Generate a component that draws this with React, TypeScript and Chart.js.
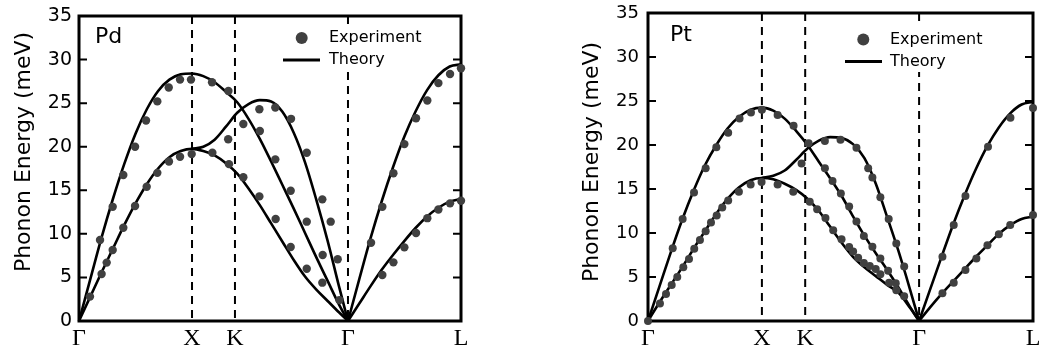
import { useEffect, useRef } from "react";
import { Chart, registerables } from "chart.js";

Chart.register(...registerables);

const SANS = "'DejaVu Sans', 'Noto Sans', sans-serif";
const SERIF = "'Liberation Serif', 'DejaVu Serif', serif";

// x positions along the path Γ-X-K-Γ-L
const TICK_POS = [0, 1, 1.38, 2.38, 3.38];
const TICK_LABELS = ["Γ", "X", "K", "Γ", "L"];
const DASH_POS = [1, 1.38, 2.38];

const GRID_GXKG = [0, 0.1, 0.2, 0.3, 0.4, 0.5, 0.6, 0.7, 0.8, 0.9, 1.0, 1.1, 1.2, 1.3, 1.4, 1.5, 1.6, 1.7, 1.8, 1.9, 2.0, 2.1, 2.2, 2.3, 2.38];
const GRID_XKG = [1.0, 1.1, 1.2, 1.3, 1.4, 1.5, 1.6, 1.7, 1.8, 1.9, 2.0, 2.1, 2.2, 2.3, 2.38];
const GRID_GL = [2.38, 2.48, 2.58, 2.68, 2.78, 2.88, 2.98, 3.08, 3.18, 3.28, 3.38];

// ---- Pd theory ----
const PD_UPPER = [0, 4.8, 9.6, 14.0, 18.0, 21.5, 24.3, 26.4, 27.7, 28.3, 28.4, 28.1, 27.4, 26.3, 25.1, 23.2, 20.9, 18.3, 15.6, 12.9, 10.1, 7.3, 4.6, 1.9, 0];
const PD_LOWER = [0, 2.8, 5.6, 8.3, 11.0, 13.5, 15.7, 17.5, 18.8, 19.5, 19.75, 19.5, 19.0, 18.1, 16.9, 15.2, 13.3, 11.2, 9.1, 7.0, 5.1, 3.6, 2.3, 1.0, 0];
const PD_MID = [19.75, 20.0, 20.8, 22.3, 23.9, 24.9, 25.35, 25.2, 24.0, 21.6, 18.2, 13.9, 9.2, 4.0, 0];
const PD_GL_UP = [0, 4.8, 9.5, 13.8, 17.7, 21.2, 24.1, 26.5, 28.2, 29.2, 29.45];
const PD_GL_LO = [0, 2.0, 4.0, 5.9, 7.6, 9.2, 10.7, 12.0, 13.0, 13.7, 14.0];

// ---- Pd experiment ----
const PD_EXP_X = [0.097, 0.186, 0.2, 0.245, 0.298, 0.298, 0.392, 0.392, 0.496, 0.496, 0.599, 0.593, 0.693, 0.693, 0.796, 0.794, 0.894, 0.894, 0.997, 0.991,
  1.177, 1.18, 1.322, 1.327, 1.32, 1.454, 1.454, 1.596, 1.6, 1.596, 1.737, 1.737, 1.74, 1.876, 1.873, 1.873, 2.015, 2.015, 2.015, 2.153, 2.156, 2.153, 2.227, 2.289, 2.304,
  2.584, 2.684, 2.782, 2.879, 2.982, 3.082, 3.18, 3.283, 3.38, 2.684, 2.782, 2.879, 2.982, 3.082, 3.18, 3.283, 3.38];
const PD_EXP_Y = [2.8, 9.3, 5.4, 6.7, 8.15, 13.1, 10.7, 16.75, 13.2, 20.0, 15.4, 23.0, 17.0, 25.2, 18.3, 26.8, 18.85, 27.7, 19.15, 27.7,
  27.4, 19.3, 26.4, 18.0, 20.85, 22.6, 16.5, 24.3, 21.8, 14.3, 24.5, 18.55, 11.7, 23.2, 14.95, 8.5, 19.3, 11.4, 6.0, 13.96, 7.57, 4.4, 11.4, 7.08, 2.4,
  8.98, 13.1, 16.95, 20.3, 23.26, 25.3, 27.3, 28.35, 29.0, 5.28, 6.73, 8.45, 10.1, 11.8, 12.8, 13.5, 13.8];

// ---- Pt theory ----
const PT_UPPER = [0, 3.9, 7.8, 11.5, 14.8, 17.7, 20.0, 21.9, 23.2, 24.0, 24.25, 23.9, 23.0, 21.6, 20.0, 18.1, 16.2, 14.2, 11.9, 9.7, 7.7, 5.8, 3.8, 1.6, 0];
const PT_LOWER = [0, 2.1, 4.1, 6.1, 8.2, 10.2, 12.2, 13.9, 15.2, 16.0, 16.25, 16.1, 15.6, 14.9, 13.9, 12.5, 10.7, 8.9, 7.3, 6.1, 5.1, 4.1, 3.2, 1.5, 0];
const PT_MID = [16.25, 16.5, 17.1, 18.3, 19.6, 20.5, 20.9, 20.8, 20.1, 18.5, 15.6, 11.8, 7.9, 3.6, 0];
const PT_GL_UP = [0, 3.7, 7.4, 11.0, 14.3, 17.3, 19.9, 22.0, 23.6, 24.6, 24.9];
const PT_GL_LO = [0, 1.6, 3.1, 4.5, 5.9, 7.3, 8.6, 9.9, 10.9, 11.6, 11.85];

// ---- Pt experiment ----
const PT_EXP_X = [0, 0.105, 0.158, 0.208, 0.257, 0.31, 0.36, 0.406, 0.456, 0.506, 0.553, 0.603, 0.652, 0.704, 0.798, 0.901, 0.997,
  0.217, 0.304, 0.404, 0.506, 0.6, 0.704, 0.804, 0.904, 1.0,
  1.138, 1.138, 1.278, 1.275, 1.348, 1.41, 1.42, 1.485, 1.553, 1.553, 1.558, 1.626, 1.62, 1.69, 1.693, 1.699, 1.766, 1.766, 1.801, 1.83,
  1.83, 1.845, 1.895, 1.895, 1.933, 1.947, 1.97, 1.97, 1.999, 2.04, 2.04, 2.04, 2.113, 2.108, 2.117, 2.18, 2.175, 2.18, 2.249, 2.249,
  2.585, 2.684, 2.787, 2.985, 3.182, 3.38, 2.585, 2.684, 2.787, 2.883, 2.98, 3.08, 3.18, 3.38];
const PT_EXP_Y = [0, 2.0, 3.07, 4.1, 5.0, 6.1, 7.05, 8.2, 9.2, 10.2, 11.2, 12.0, 12.9, 13.7, 14.7, 15.5, 15.8,
  8.26, 11.6, 14.6, 17.35, 19.75, 21.4, 23.0, 23.7, 24.0,
  23.4, 15.5, 22.2, 14.7, 17.9, 20.2, 13.55, 12.7, 20.45, 17.35, 11.7, 10.3, 15.9, 20.6, 14.5, 9.3, 13.0, 8.4, 7.9, 19.7,
  11.3, 7.2, 9.66, 6.6, 17.35, 6.25, 16.3, 8.44, 5.9, 14.05, 7.1, 5.3, 11.6, 5.7, 4.35, 8.8, 4.3, 3.5, 6.2, 2.8,
  7.3, 10.9, 14.2, 19.8, 23.1, 24.2, 3.15, 4.35, 5.8, 7.1, 8.6, 9.85, 10.9, 12.05];

const Y_INNER_TICKS = [5, 10, 15, 20, 25, 30];

const W = 520;
const H = 351;

type Panel = {
  name: string;
  offsetX: number;
  upper: number[];
  lower: number[];
  mid: number[];
  glUp: number[];
  glLo: number[];
  expX: number[];
  expY: number[];
  area: { left: number; right: number; top: number; bottom: number };
  tickPad: number;
  tickFont: number;
  pointRadius: number;
  yTitle: { x: number; y: number };
  nameAt: { x: number; y: number };
  legend: { mx: number; my: number; lx0: number; lx1: number; ly: number; tx: number; box: [number, number, number, number] };
};

const PANELS: Panel[] = [
  {
    name: "Pd",
    offsetX: 0,
    upper: PD_UPPER, lower: PD_LOWER, mid: PD_MID, glUp: PD_GL_UP, glLo: PD_GL_LO,
    expX: PD_EXP_X, expY: PD_EXP_Y,
    area: { left: 79, right: 461, top: 16, bottom: 321 },
    tickPad: 7,
    tickFont: 19,
    pointRadius: 4.2,
    yTitle: { x: 24, y: 152 },
    nameAt: { x: 95, y: 43 },
    legend: { mx: 301.7, my: 38, lx0: 283, lx1: 320, ly: 60, tx: 329, box: [279, 27, 146, 44] },
  },
  {
    name: "Pt",
    offsetX: 520,
    upper: PT_UPPER, lower: PT_LOWER, mid: PT_MID, glUp: PT_GL_UP, glLo: PT_GL_LO,
    expX: PT_EXP_X, expY: PT_EXP_Y,
    area: { left: 128, right: 513, top: 13, bottom: 321 },
    tickPad: 9,
    tickFont: 18,
    pointRadius: 4,
    yTitle: { x: 592.5, y: 162 },
    nameAt: { x: 670, y: 41 },
    legend: { mx: 863.3, my: 39.5, lx0: 845, lx1: 882, ly: 61.5, tx: 890, box: [841, 26, 146, 46] },
  },
];

const toXY = (xs: number[], ys: number[]) => xs.map((x, i) => ({ x, y: ys[i] }));

function decor(p: Panel) {
  const o = p.offsetX;
  return {
    id: "decor" + p.name,
    beforeDatasetsDraw(chart: any) {
      const { ctx, chartArea: a, scales } = chart;
      const x = scales.x;
      const y = scales.y;
      ctx.save();
      // dashed high-symmetry lines
      ctx.strokeStyle = "#000";
      ctx.lineWidth = 2;
      ctx.setLineDash([8, 6]);
      DASH_POS.forEach((v) => {
        const px = x.getPixelForValue(v);
        ctx.beginPath();
        ctx.moveTo(px, a.top);
        ctx.lineTo(px, a.bottom);
        ctx.stroke();
      });
      ctx.setLineDash([]);
      // frame
      ctx.lineWidth = 3;
      ctx.strokeRect(a.left, a.top, a.right - a.left, a.bottom - a.top);
      // inner ticks
      ctx.lineWidth = 2;
      Y_INNER_TICKS.forEach((v) => {
        const py = y.getPixelForValue(v);
        ctx.beginPath();
        ctx.moveTo(a.left, py);
        ctx.lineTo(a.left + 8, py);
        ctx.moveTo(a.right, py);
        ctx.lineTo(a.right - 8, py);
        ctx.stroke();
      });
      ctx.restore();
    },
    afterDraw(chart: any) {
      const { ctx } = chart;
      const L = p.legend;
      ctx.save();
      // legend
      ctx.fillStyle = "#fff";
      ctx.fillRect(L.box[0] - o, L.box[1], L.box[2], L.box[3]);
      ctx.fillStyle = "#404040";
      ctx.beginPath();
      ctx.arc(L.mx - o, L.my, 6, 0, Math.PI * 2);
      ctx.fill();
      ctx.strokeStyle = "#000";
      ctx.lineWidth = 3;
      ctx.beginPath();
      ctx.moveTo(L.lx0 - o, L.ly);
      ctx.lineTo(L.lx1 - o, L.ly);
      ctx.stroke();
      ctx.fillStyle = "#000";
      ctx.font = `16px ${SANS}`;
      ctx.textAlign = "left";
      ctx.textBaseline = "middle";
      ctx.fillText("Experiment", L.tx - o, L.my);
      ctx.fillText("Theory", L.tx - o, L.ly);
      // panel name
      ctx.font = `22px ${SANS}`;
      ctx.textBaseline = "alphabetic";
      ctx.fillText(p.name, p.nameAt.x - o, p.nameAt.y);
      // y title
      ctx.translate(p.yTitle.x - o, p.yTitle.y);
      ctx.rotate(-Math.PI / 2);
      ctx.textAlign = "center";
      ctx.textBaseline = "middle";
      ctx.font = `22px ${SANS}`;
      ctx.fillText("Phonon Energy (meV)", 0, 0);
      ctx.restore();
    },
  };
}

function buildConfig(p: Panel): any {
  const line = (xs: number[], ys: number[]) => ({
    type: "line",
    data: toXY(xs, ys),
    borderColor: "#000",
    borderWidth: 2.6,
    pointRadius: 0,
    fill: false,
    showLine: true,
    cubicInterpolationMode: "monotone",
    clip: false,
    order: 1,
  });
  return {
    type: "scatter",
    data: {
      datasets: [
        {
          type: "scatter",
          label: "Experiment",
          data: toXY(p.expX, p.expY),
          pointRadius: p.pointRadius,
          pointBackgroundColor: "#404040",
          pointBorderWidth: 0,
          showLine: false,
          clip: false,
          order: 0,
        },
        line(GRID_GXKG, p.upper),
        line(GRID_GXKG, p.lower),
        line(GRID_XKG, p.mid),
        line(GRID_GL, p.glUp),
        line(GRID_GL, p.glLo),
      ],
    },
    options: {
      responsive: false,
      animation: false,
      events: [],
      layout: { padding: { left: 0, top: p.area.top, right: W - p.area.right, bottom: 0 } },
      plugins: { legend: { display: false }, tooltip: { enabled: false }, title: { display: false } },
      scales: {
        x: {
          type: "linear",
          min: 0,
          max: 3.38,
          grid: { display: false, drawTicks: false },
          border: { display: false },
          afterBuildTicks: (s: any) => {
            s.ticks = TICK_POS.map((v) => ({ value: v }));
          },
          ticks: {
            autoSkip: false,
            maxRotation: 0,
            padding: 3,
            color: "#000",
            font: { family: SERIF, size: 24 },
            callback: (_v: any, i: number) => TICK_LABELS[i],
          },
          afterFit: (s: any) => {
            s.height = H - p.area.bottom;
            s.paddingLeft = 0;
            s.paddingRight = 0;
          },
        },
        y: {
          type: "linear",
          min: 0,
          max: 35,
          grid: { display: false, drawTicks: false },
          border: { display: false },
          ticks: { stepSize: 5, padding: p.tickPad, color: "#000", font: { family: SANS, size: p.tickFont } },
          afterFit: (s: any) => {
            s.width = p.area.left;
            s.paddingTop = 0;
            s.paddingBottom = 0;
          },
        },
      },
    },
    plugins: [decor(p)],
  };
}

export default function App() {
  const leftRef = useRef<HTMLCanvasElement>(null);
  const rightRef = useRef<HTMLCanvasElement>(null);
  useEffect(() => {
    const c1 = new Chart(leftRef.current as HTMLCanvasElement, buildConfig(PANELS[0]));
    const c2 = new Chart(rightRef.current as HTMLCanvasElement, buildConfig(PANELS[1]));
    return () => {
      c1.destroy();
      c2.destroy();
    };
  }, []);
  return (
    <div style={{ position: "absolute", left: 0, top: 0, width: 1040, height: 351, background: "#fff" }}>
      <canvas ref={leftRef} width={W} height={H} style={{ position: "absolute", left: 0, top: 0, width: W, height: H }} />
      <canvas ref={rightRef} width={W} height={H} style={{ position: "absolute", left: 520, top: 0, width: W, height: H }} />
    </div>
  );
}
